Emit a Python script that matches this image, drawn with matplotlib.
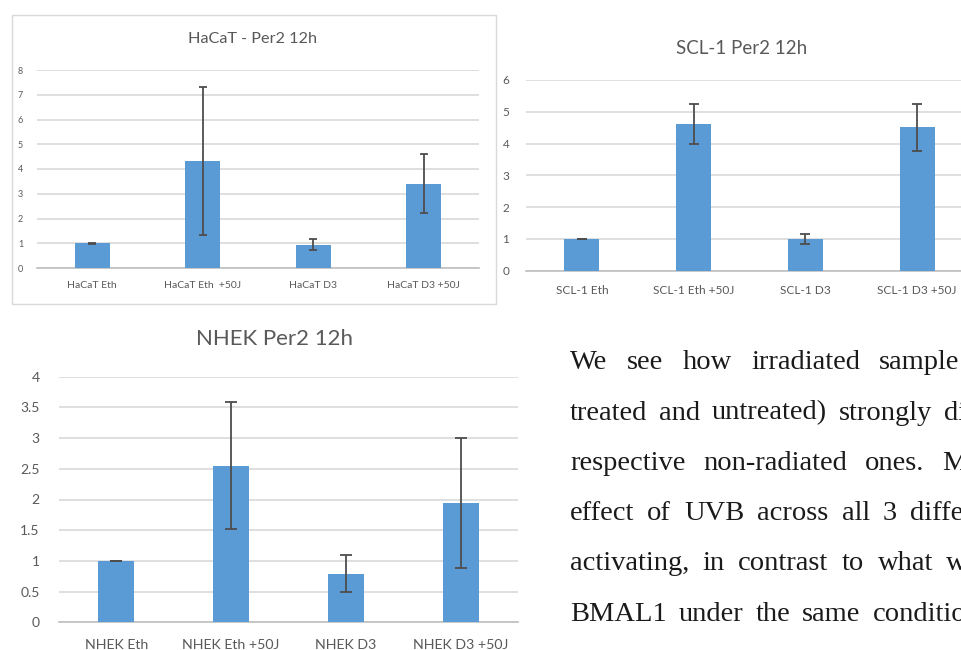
import matplotlib
matplotlib.use("Agg")
import matplotlib.pyplot as plt
from matplotlib.patches import Rectangle

W, H = 962, 650
plt.rcParams['font.family'] = ['Lato', 'DejaVu Sans']

# ---- data ----
hacat_labels = ["HaCaT Eth", "HaCaT Eth  +50J", "HaCaT D3", "HaCaT D3 +50J"]
hacat_values = [1.0, 4.33, 0.94, 3.40]
hacat_errors = [0.02, 3.0, 0.22, 1.19]

scl_labels = ["SCL-1 Eth", "SCL-1 Eth +50J", "SCL-1 D3", "SCL-1 D3 +50J"]
scl_values = [1.0, 4.63, 0.99, 4.51]
scl_errors = [0.0, 0.63, 0.15, 0.73]

nhek_labels = ["NHEK Eth", "NHEK Eth +50J", "NHEK D3", "NHEK D3 +50J"]
nhek_values = [1.0, 2.55, 0.79, 1.94]
nhek_errors = [0.0, 1.03, 0.30, 1.06]

hacat_yticks = [0, 1, 2, 3, 4, 5, 6, 7, 8]
scl_yticks = [0, 1, 2, 3, 4, 5, 6]
nhek_yticks = [0, 0.5, 1, 1.5, 2, 2.5, 3, 3.5, 4]
nhek_yticklabels = ["0", "0.5", "1", "1.5", "2", "2.5", "3", "3.5", "4"]

paragraph_lines = [
    ["We", "see", "how", "irradiated", "sample"],
    ["treated", "and", "untreated)", "strongly", "di"],
    ["respective", "non-radiated", "ones.", "M"],
    ["effect", "of", "UVB", "across", "all", "3", "diffe"],
    ["activating,", "in", "contrast", "to", "what", "w"],
    ["BMAL1", "under", "the", "same", "conditio"],
]

BLUE = "#5b9bd5"
GRID = "#d9d9d9"
TXT = "#595959"
ERR = "#4d4d4d"

fig = plt.figure(figsize=(W / 100, H / 100), dpi=100)
fig.patch.set_facecolor("white")


def px_axes(x0, x1, ytop, ybot):
    return fig.add_axes([x0 / W, 1 - ybot / H, (x1 - x0) / W, (ybot - ytop) / H])


def draw(ax, labels, values, errors, yticks, ylim, tick_fs, cat_fs, ypad, xpad, ytl=None, capsize=3):
    x = list(range(len(labels)))
    ax.bar(x, values, width=0.315, color=BLUE, zorder=3,
           yerr=errors, error_kw=dict(ecolor=ERR, elinewidth=1.3, capsize=capsize, capthick=1.3, zorder=4))
    ax.set_xlim(-0.5, len(labels) - 0.5)
    ax.set_ylim(*ylim)
    ax.set_yticks(yticks)
    if ytl is not None:
        ax.set_yticklabels(ytl)
    ax.set_xticks(x)
    ax.set_xticklabels(labels)
    for s in ["top", "right", "left"]:
        ax.spines[s].set_visible(False)
    ax.spines["bottom"].set_color("#bfbfbf")
    ax.spines["bottom"].set_linewidth(1.2)
    ax.spines["bottom"].set_zorder(2)
    ax.grid(axis="y", color=GRID, linewidth=1.2, zorder=0)
    ax.set_axisbelow(True)
    ax.tick_params(axis="y", length=0, labelsize=tick_fs, labelcolor=TXT, pad=xpad)
    ax.tick_params(axis="x", length=0, labelsize=cat_fs, labelcolor=TXT, pad=ypad)
    ax.set_facecolor("none")


# HaCaT chart with border
fig.patches.append(Rectangle((12 / W, 1 - 304 / H), (496 - 12) / W, (304 - 15) / H,
                             transform=fig.transFigure, fill=False, edgecolor="#d9d9d9", linewidth=1.0))
ax1 = px_axes(37, 479, 70, 268)
draw(ax1, hacat_labels, hacat_values, hacat_errors, hacat_yticks, (0, 8), 6.5, 7.5, 9, 10, capsize=3)
fig.text(253 / W, 1 - 39 / H, "HaCaT - Per2 12h", ha="center", va="center", fontsize=11.7, color=TXT)

ax2 = px_axes(526, 973, 80, 270.7)
draw(ax2, scl_labels, scl_values, scl_errors, scl_yticks, (0, 6), 8.5, 8.6, 10, 12, capsize=3.5)
fig.text(742 / W, 1 - 48 / H, "SCL-1 Per2 12h", ha="center", va="center", fontsize=13.5, color=TXT)

ax3 = px_axes(59, 518, 376.7, 622.3)
draw(ax3, nhek_labels, nhek_values, nhek_errors, nhek_yticks, (0, 4), 10, 10.2, 12, 14, ytl=nhek_yticklabels, capsize=4)
fig.text(275 / W, 1 - 339 / H, "NHEK Per2 12h", ha="center", va="center", fontsize=16, color=TXT)

# paragraph text: justified lines (word gap per line, in pixels)
line_gaps = [19.4, 11.8, 17.8, 13.0, 13.4, 12.0]
baselines = [369.3, 419.5, 469.5, 519.5, 570.5, 620.7]
x_start = 570
renderer = fig.canvas.get_renderer()
for words, gap, yb in zip(paragraph_lines, line_gaps, baselines):
    xw = x_start
    for w in words:
        t = fig.text(xw / W, 1 - yb / H, w, ha="left", va="baseline", fontsize=20.5,
                     family=["Liberation Serif", "DejaVu Serif"], color="#1a1a1a")
        xw += t.get_window_extent(renderer).width + gap

fig.savefig("out.png", dpi=100)
